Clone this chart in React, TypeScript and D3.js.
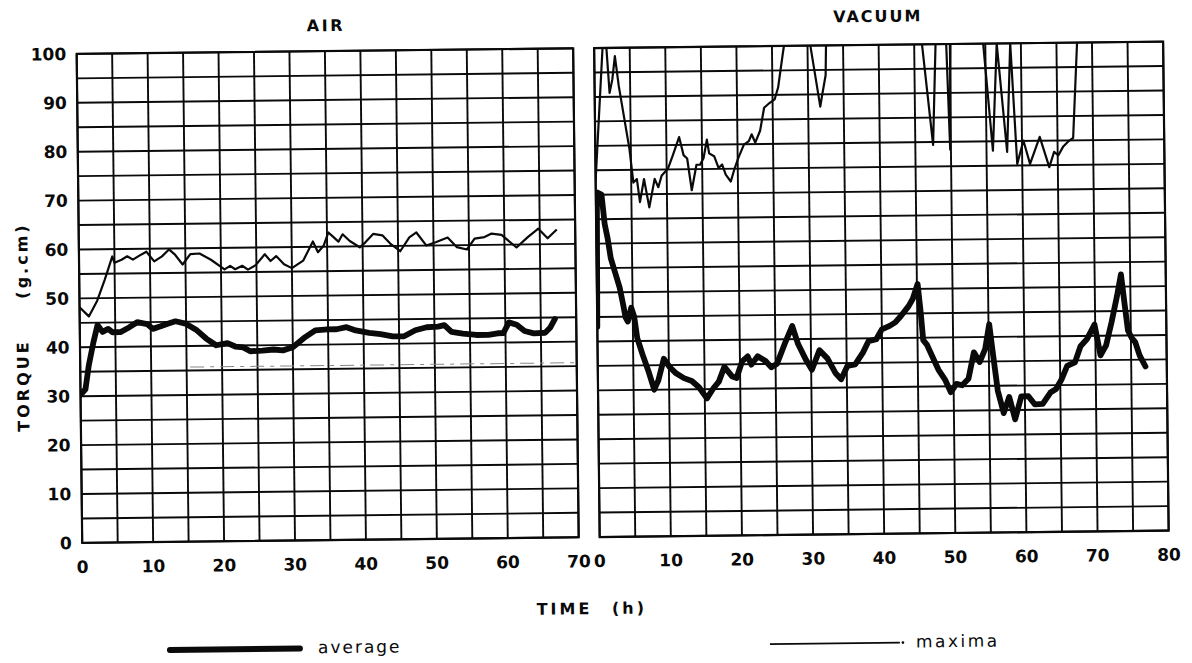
import React from "react";
import * as d3 from "d3";

// torque readings [time h, g.cm]
const airMaxima: [number, number][] = [
  [0, 48.2], [1.3, 46.3], [2.5, 49.5], [3.6, 53.8], [4.7, 58.5], [5, 57.2], [6, 57.8], [6.8, 58.5],
  [7.6, 57.8], [8.4, 58.5], [9.5, 59.4], [10.6, 57.4], [11.7, 58.4], [12.7, 59.8], [13.5, 58.8],
  [14.6, 56.7], [15.7, 58.8], [17, 58.9], [18.6, 57.6], [20.5, 55.6], [21.3, 56.3], [22, 55.6],
  [23, 56.3], [23.8, 55.5], [24.9, 56.4], [26.2, 58.6], [27, 57.2], [27.8, 58.2], [28.9, 56.5],
  [30, 55.7], [31.6, 57.2], [33, 61.1], [33.7, 58.9], [34.5, 60.2], [35.2, 62.9], [35.8, 62.1],
  [36.6, 61], [37.2, 62.5], [38.2, 61.1], [39.6, 59.8], [40.4, 60.8], [41.5, 62.5], [42.8, 62.2],
  [43.9, 60.5], [45.3, 58.9], [46.6, 61.7], [47.6, 62.7], [49, 60], [50.4, 60.7], [52, 61.6],
  [53.3, 59.6], [54.7, 59.1], [55.8, 61.3], [57.2, 61.6], [58.2, 62.3], [59.6, 62], [61.7, 59.4],
  [63.3, 61.5], [64.8, 63.2], [66.1, 61.2], [67.4, 63],
];

const airAverage: [number, number][] = [
  [0, 30.3], [0.7, 31.4], [1.2, 36.2], [1.9, 41], [2.5, 44.5], [3.2, 43.1], [4, 43.7], [4.6, 43],
  [5.7, 43], [7, 44], [8.1, 45], [9.5, 44.6], [10.3, 43.6], [11.4, 44.1], [12.4, 44.6], [13.5, 45.1],
  [14.9, 44.6], [16.5, 43.2], [17.8, 41.5], [19.2, 40.1], [20.8, 40.5], [21.9, 39.8], [23, 39.6],
  [24, 38.8], [25.7, 38.9], [27.3, 39.1], [28.6, 38.9], [30, 39.5], [31.6, 41.4], [33.2, 42.9],
  [34.9, 43.1], [36.2, 43.1], [37.6, 43.5], [38.9, 42.8], [40.8, 42.3], [42.4, 42], [44.1, 41.5],
  [45.7, 41.5], [47.3, 42.7], [48.9, 43.3], [50.5, 43.4], [51.4, 43.7], [52.4, 42.3], [54, 41.9],
  [55.9, 41.6], [57.6, 41.6], [58.9, 41.9], [59.7, 41.9], [60.5, 44.1], [61.6, 43.6], [62.7, 42.3],
  [64, 41.8], [65.6, 41.9], [66.3, 42.9], [67, 44.7],
];

const vacuumMaxima: [number, number][] = [
  [0, 73], [1.2, 100.5], [1.7, 100.5], [2.1, 90.8], [2.5, 93.5], [2.9, 98.3], [3.4, 92.2],
  [4.8, 79.3], [5.3, 72.4], [5.8, 73.1], [6.2, 68.4], [6.8, 73.1], [7.5, 67.3], [8.3, 73.1],
  [8.8, 71.4], [9.3, 73.8], [10.2, 75.2], [10.9, 77.9], [11.8, 81.6], [12.4, 77.9], [12.9, 77.2],
  [13.5, 70.7], [14.2, 75.9], [14.7, 75.9], [15.2, 77.2], [15.7, 81], [16, 78.2], [16.7, 77.6],
  [17.3, 75.2], [17.8, 75.9], [18.3, 73.8], [19, 72.4], [19.5, 74.8], [20.1, 77.2], [20.9, 79.9],
  [21.6, 80.6], [22, 82], [22.5, 80.3], [23.2, 82.7], [23.8, 87.4], [24.6, 88.4], [25.3, 89.1],
  [25.8, 91.5], [26.5, 98.3], [26.8, 101], [28.5, 112], [30.4, 100], [31.7, 87.5], [32, 90],
  [32.5, 93.9], [32.6, 100], [33.5, 110], [40, 112], [45, 110], [46.1, 100], [47.5, 79.4],
  [48, 100], [48.8, 106], [49.5, 100], [49.9, 78.4], [50.1, 100], [52, 108], [54.7, 100],
  [55.9, 78.1], [56.6, 100], [57.9, 77.8], [58.5, 100], [59.3, 75.3], [60.2, 80.1], [61.1, 75.3],
  [62.5, 80.8], [63.8, 74.6], [64.5, 77.7], [65.1, 77], [65.8, 78.8], [66.5, 79.8], [67.2, 80.5],
  [67.9, 100], [68.4, 108],
];

const vacuumAverage: [number, number][] = [
  [0, 43], [0.15, 70.5], [0.8, 70], [1.2, 64], [1.6, 61], [2, 57], [2.6, 54], [3.2, 51], [3.6, 48],
  [4, 44.8], [4.3, 44], [4.8, 46.8], [5.2, 45], [5.6, 40.6], [6.3, 37.3], [7.1, 33.9], [7.9, 30],
  [8.5, 31.9], [9.3, 36.3], [10.1, 34.6], [11, 33.3], [12.1, 32.3], [13.2, 31.7], [14.2, 30.4],
  [15.3, 28.1], [16.2, 30.1], [17, 31.5], [17.8, 34.5], [18.9, 32.5], [19.5, 32.2], [20.3, 35.6],
  [21.1, 36.6], [21.6, 34.9], [22.5, 36.6], [23.6, 35.6], [24.4, 34.3], [25.2, 35], [26.3, 39],
  [27.4, 42.7], [28.2, 39], [29.3, 35.7], [30.1, 33.7], [31.2, 37.7], [32.3, 36], [33.4, 33],
  [34.2, 31.7], [35.1, 34.4], [36.2, 34.7], [37.3, 37.1], [38.1, 39.4], [39.2, 39.8], [40, 41.8],
  [41.1, 42.5], [41.9, 43.2], [42.7, 44.5], [43.8, 46.5], [44.4, 48], [45.1, 51], [45.5, 45],
  [45.8, 39.5], [46.3, 38.6], [47.1, 36], [47.9, 33.4], [48.8, 31.4], [49.6, 28.8], [50.4, 30.5],
  [51.2, 30.2], [52.1, 31.5], [52.9, 36.9], [53.7, 34.9], [54.5, 37.6], [55.1, 42.6], [55.6, 36.3],
  [56.2, 29], [57, 24.4], [57.8, 27.7], [58.6, 23.1], [59.5, 27.8], [60.5, 27.8], [61.4, 26.1],
  [62.5, 26.2], [63.6, 28.5], [64.4, 29.2], [65.2, 31.2], [66, 33.9], [67.1, 34.6], [67.9, 37.9],
  [68.8, 39.3], [69.9, 42.3], [70.7, 36], [71.5, 38], [72.3, 42.7], [73.1, 48], [73.7, 52.5],
  [74.2, 46], [74.6, 41], [75.1, 39.5], [75.6, 38.6], [76.2, 35.9], [77, 33.6],
];

const airDashLevel = 35.7;
const airDashFrom = 15.5;

const torqueTicks = [0, 10, 20, 30, 40, 50, 60, 70, 80, 90, 100];
const airTimeTicks = [0, 10, 20, 30, 40, 50, 60, 70];
const vacuumTimeTicks = [0, 10, 20, 30, 40, 50, 60, 70, 80];

const FONT = "'DejaVu Sans', sans-serif";
const INK = "#0a0a0a";

const y = d3.scaleLinear().domain([0, 100]).range([537, 48]);
const airX = d3.scaleLinear().domain([0, 70]).range([79.5, 576]);
const vacX = d3.scaleLinear().domain([0, 80]).range([597, 1166]);

function Panel({ x, id, maxima, average, ticks }: any) {
  const [x0, x1] = x.range();
  const [t0, t1] = x.domain();
  const line = d3.line<[number, number]>().x((d) => x(d[0])).y((d) => y(d[1]));
  return (
    <g>
      <defs>
        <clipPath id={id}>
          <rect x={x0} y={y(100)} width={x1 - x0} height={y(0) - y(100)} />
        </clipPath>
      </defs>
      {d3.range(0, 101, 5).map((v) => (
        <line key={"h" + v} x1={x0} x2={x1} y1={y(v)} y2={y(v)} stroke={INK} strokeWidth={1.9} />
      ))}
      {d3.range(t0, t1 + 1, 5).map((t) => (
        <line key={"v" + t} x1={x(t)} x2={x(t)} y1={y(0)} y2={y(100)} stroke={INK} strokeWidth={1.9} />
      ))}
      <rect x={x0} y={y(100)} width={x1 - x0} height={y(0) - y(100)} fill="none" stroke={INK} strokeWidth={2.2} />
      <g clipPath={`url(#${id})`}>
        <path d={line(maxima) || ""} fill="none" stroke={INK} strokeWidth={2.2} strokeLinejoin="round" />
        <path d={line(average) || ""} fill="none" stroke={INK} strokeWidth={5.8} strokeLinejoin="round" strokeLinecap="round" />
      </g>
      {ticks.map((t: number) => (
        <text key={"t" + t} x={x(t)} y={567} textAnchor="middle" fontSize={17} fontWeight="bold" fontFamily={FONT} fill={INK}>
          {t}
        </text>
      ))}
    </g>
  );
}

export default function App() {
  return (
    <svg width={1192} height={663} style={{ position: "absolute", left: 0, top: 0, background: "#fff" }}>
      <rect width={1192} height={663} fill="#fff" />
      <g transform="rotate(-0.65 600 300)">
        <text x={329} y={28} textAnchor="middle" fontSize={16} fontWeight="bold" fontFamily={FONT} letterSpacing={2.5} fill={INK}>
          AIR
        </text>
        <text x={881} y={25} textAnchor="middle" fontSize={16} fontWeight="bold" fontFamily={FONT} letterSpacing={2} fill={INK}>
          VACUUM
        </text>

        <Panel x={airX} id="clip-air" maxima={airMaxima} average={airAverage} ticks={airTimeTicks} />
        <Panel x={vacX} id="clip-vac" maxima={vacuumMaxima} average={vacuumAverage} ticks={vacuumTimeTicks} />

        <line x1={airX(airDashFrom)} x2={airX(70)} y1={y(airDashLevel)} y2={y(airDashLevel)}
          stroke="#888" strokeWidth={1} strokeDasharray="14 6 4 6" />

        {torqueTicks.map((v) => (
          <text key={v} x={69} y={y(v) + 6} textAnchor="end" fontSize={17} fontWeight="bold" fontFamily={FONT} fill={INK}>
            {v}
          </text>
        ))}

        <text transform="translate(28 379) rotate(-90)" textAnchor="middle" fontSize={16} fontWeight="bold" fontFamily={FONT} letterSpacing={3} fill={INK}>
          TORQUE
        </text>
        <text transform="translate(28 254) rotate(-90)" textAnchor="middle" fontSize={16} fontWeight="bold" fontFamily={FONT} letterSpacing={3} fill={INK}>
          (g.cm)
        </text>

        <text x={561} y={614} textAnchor="middle" fontSize={16} fontWeight="bold" fontFamily={FONT} letterSpacing={3} fill={INK}>
          TIME
        </text>
        <text x={626} y={614} textAnchor="middle" fontSize={16} fontWeight="bold" fontFamily={FONT} letterSpacing={3} fill={INK}>
          (h)
        </text>

        <line x1={166} x2={296} y1={645} y2={645} stroke={INK} strokeWidth={6} strokeLinecap="round" />
        <text x={314} y={650} fontSize={17} fontFamily={FONT} letterSpacing={2} fill={INK}>average</text>

        <line x1={766} x2={896} y1={646} y2={646} stroke={INK} strokeWidth={1.8} />
        <circle cx={899} cy={646} r={1.4} fill={INK} />
        <text x={912} y={651} fontSize={17} fontFamily={FONT} letterSpacing={2.5} fill={INK}>maxima</text>
      </g>
    </svg>
  );
}
